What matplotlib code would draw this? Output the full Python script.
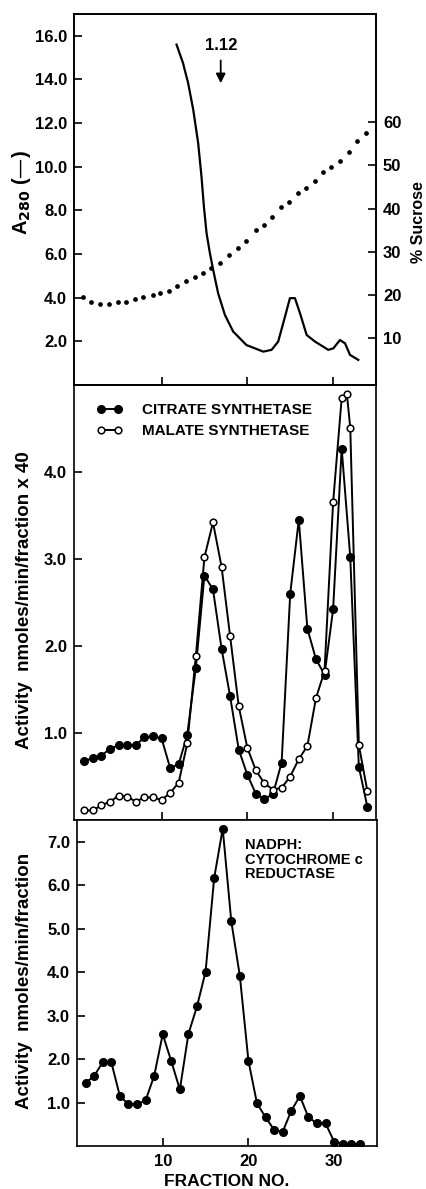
import matplotlib
matplotlib.use("Agg")
import matplotlib.pyplot as plt

plt.rcParams.update({"font.family": ["Liberation Sans", "DejaVu Sans"], "font.weight": "bold",
                     "axes.labelweight": "bold",
                     "axes.linewidth": 1.2, "xtick.direction": "in", "ytick.direction": "in",
                     "xtick.major.size": 6, "ytick.major.size": 6,
                     "xtick.major.width": 1.2, "ytick.major.width": 1.2,
                     "mathtext.default": "bf"})

# ── dados ─────────────────────────────────────────────────────────────────────
a280_x = [11.75, 12.5, 13.1, 13.7, 14.27, 14.66, 14.94, 15.25, 15.64, 16.02, 16.6, 17.39,
          18.35, 19.9, 21.86, 22.83, 23.6, 24.39, 24.97, 25.55, 26.14, 26.92, 27.89,
          29.44, 30.03, 30.8, 31.39, 31.97, 32.94]
a280_y = [15.6, 14.76, 13.84, 12.61, 11.09, 9.55, 8.18, 6.96, 6.04, 5.28, 4.2, 3.21,
          2.45, 1.83, 1.53, 1.61, 1.99, 3.13, 3.98, 3.98, 3.29, 2.29, 1.99,
          1.61, 1.68, 2.06, 1.91, 1.38, 1.15]

suc_x = [0.85, 1.83, 2.8, 3.89, 4.94, 5.9, 6.88, 7.85, 8.95, 9.88, 10.9, 11.8, 12.8, 13.9,
         14.85, 15.8, 16.8, 17.9, 18.9, 19.9, 21.0, 22.0, 22.9, 23.9, 24.9, 25.9, 26.8,
         27.9, 28.8, 29.8, 30.8, 31.9, 32.8, 33.8]
suc_y = [19.6, 18.5, 17.9, 17.9, 18.3, 18.5, 19.1, 19.6, 20.0, 20.4, 20.9, 22.1, 23.3, 24.2,
         25.2, 26.2, 27.3, 29.3, 30.8, 32.6, 35.0, 36.2, 38.1, 40.3, 41.6, 43.5, 44.8,
         46.3, 48.5, 49.7, 51.0, 53.1, 55.6, 57.5]

cit_x = list(range(1, 35))
cit_y = [0.68, 0.71, 0.74, 0.82, 0.86, 0.86, 0.86, 0.95, 0.96, 0.94, 0.60, 0.64, 0.98, 1.75,
         2.81, 2.65, 1.97, 1.42, 0.81, 0.52, 0.30, 0.24, 0.30, 0.66, 2.60, 3.45, 2.20, 1.85,
         1.67, 2.42, 4.27, 3.02, 0.61, 0.15]

mal_x = list(range(1, 32)) + [31.6, 32, 33, 34]
mal_y = [0.11, 0.11, 0.17, 0.21, 0.28, 0.27, 0.21, 0.26, 0.26, 0.23, 0.31, 0.43, 0.88, 1.88,
         3.02, 3.42, 2.91, 2.11, 1.31, 0.83, 0.57, 0.42, 0.35, 0.37, 0.50, 0.70, 0.85, 1.40,
         1.71, 3.65, 4.85, 4.90, 4.51, 0.86, 0.33]

nad_x = list(range(1, 34))
nad_y = [1.45, 1.61, 1.93, 1.93, 1.15, 0.96, 0.96, 1.05, 1.61, 2.57, 1.95, 1.30, 2.58, 3.21,
         4.01, 6.16, 7.30, 5.17, 3.91, 1.96, 0.98, 0.66, 0.37, 0.33, 0.81, 1.15, 0.66, 0.52,
         0.52, 0.10, 0.05, 0.05, 0.05]

a280_ticks = [2, 4, 6, 8, 10, 12, 14, 16]
suc_ticks = [10, 20, 30, 40, 50, 60]
mid_ticks = [1, 2, 3, 4]
bot_ticks = [1, 2, 3, 4, 5, 6, 7]
frac_ticks = [10, 20, 30]

W, H = 426, 1189
fig = plt.figure(figsize=(W / 100, H / 100), dpi=100)
ax1 = fig.add_axes([74 / W, 1 - 385 / H, 302 / W, 371 / H])
ax2 = fig.add_axes([74 / W, 1 - 820 / H, 302 / W, 435 / H])
ax3 = fig.add_axes([77 / W, 1 - 1146 / H, 300 / W, 326 / H])

# ── painel superior: A280 e sacarose ──────────────────────────────────────────
ax1.plot(a280_x, a280_y, color="k", lw=1.6)
ax1.set_xlim(-0.2, 35); ax1.set_ylim(0, 17)
ax1.set_yticks(a280_ticks, [f"{v:.1f}" for v in a280_ticks], fontsize=12)
ax1.set_xticks(frac_ticks, [])
ax1.tick_params(axis="y", pad=5)
ax1.set_ylabel(r"A$_{280}$ (—)", fontsize=14.5)
ax1.yaxis.set_label_coords(-0.135, 0.52)
ax1.annotate("", xy=(16.9, 13.7), xytext=(16.9, 15.0),
             arrowprops=dict(arrowstyle="-|>", color="k", lw=1.3, mutation_scale=14))
ax1.text(17.0, 15.55, "1.12", ha="center", va="center", fontsize=12)

ax1b = ax1.twinx()
ax1b.plot(suc_x, suc_y, ls="none", marker="o", ms=2.4, color="k")
ax1b.set_ylim(-0.8, 85)
ax1b.set_yticks(suc_ticks, [str(v) for v in suc_ticks], fontsize=12)
ax1b.tick_params(axis="y", pad=5)
ax1b.set_ylabel("% Sucrose", fontsize=11.5, rotation=90)
ax1b.yaxis.set_label_coords(1.117, 0.44)

# ── painel do meio: citrato e malato sintetase ────────────────────────────────
l_cit, = ax2.plot(cit_x, cit_y, color="k", lw=1.4, marker="o", ms=5.5, mfc="k")
l_mal, = ax2.plot(mal_x, mal_y, color="k", lw=1.4, marker="o", ms=4.8, mfc="white", mew=1.1)
ax2.set_xlim(-0.2, 35); ax2.set_ylim(0, 5)
ax2.set_yticks(mid_ticks, [f"{v:.1f}" for v in mid_ticks], fontsize=12)
ax2.set_xticks(frac_ticks, [])
ax2.tick_params(axis="y", pad=5)
ax2.set_ylabel("Activity  nmoles/min/fraction x 40", fontsize=13.5)
ax2.yaxis.set_label_coords(-0.135, 0.505)
ax2.legend([l_cit, l_mal], ["CITRATE SYNTHETASE", "MALATE SYNTHETASE"], loc="upper left",
           bbox_to_anchor=(0.075, 0.958), frameon=False, numpoints=2, handlelength=1.7,
           handletextpad=1.25, labelspacing=0.45, borderpad=0, borderaxespad=0,
           prop={"size": 11, "weight": "bold"})

# ── painel inferior: NADPH citocromo c redutase ───────────────────────────────
ax3.plot(nad_x, nad_y, color="k", lw=1.4, marker="o", ms=5.5, mfc="k")
ax3.set_xlim(0, 35); ax3.set_ylim(0, 7.5)
ax3.set_yticks(bot_ticks, [f"{v:.1f}" for v in bot_ticks], fontsize=12)
ax3.set_xticks(frac_ticks, [str(v) for v in frac_ticks], fontsize=12)
ax3.tick_params(axis="y", pad=5); ax3.tick_params(axis="x", pad=6)
ax3.set_ylabel("Activity  nmoles/min/fraction", fontsize=13.5)
ax3.yaxis.set_label_coords(-0.147, 0.505)
ax3.set_xlabel("FRACTION NO.", fontsize=12.5, labelpad=3)
ax3.text(19.6, 7.08, "NADPH:\nCYTOCHROME c\nREDUCTASE", ha="left", va="top",
         fontsize=10.5, linespacing=1.05)

fig.savefig("out.png", dpi=100)
